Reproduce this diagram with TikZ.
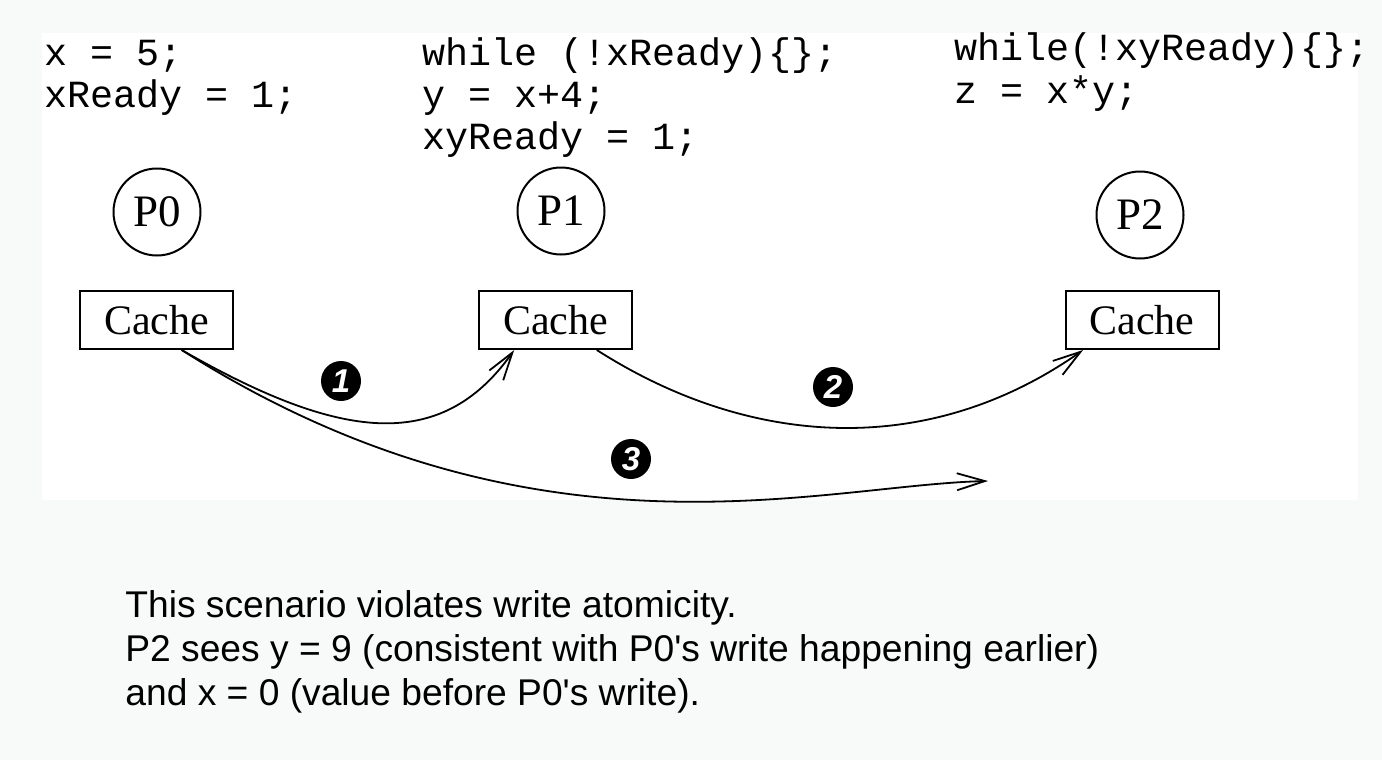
\documentclass[tikz,border=0pt]{standalone}
\usepackage{fontspec}
\setmainfont{Liberation Serif}
\setsansfont{Liberation Sans}
\setmonofont{Liberation Mono}
\usetikzlibrary{arrows.meta}

\newlength{\du}
\setlength{\du}{0.5pt}
\definecolor{pagegray}{rgb}{0.972549, 0.976471, 0.976471}

\tikzset{
  codeblock/.style={anchor=base west, inner sep=0pt, align=left,
    font=\ttfamily\fontsize{19.2}{21}\selectfont},
  proc/.style={draw, circle, line width=2\du, minimum size=87\du,
    inner sep=0pt, font=\fontsize{22.5}{24}\selectfont},
  cachebox/.style={draw, rectangle, line width=2\du, minimum width=153\du,
    minimum height=58\du, inner sep=0pt, font=\fontsize{21}{24}\selectfont},
  badge/.style={circle, fill=black, minimum size=40\du, inner sep=0pt,
    text=white, font=\sffamily\bfseries\itshape\fontsize{16.5}{16}\selectfont},
  msg/.style={line width=1.8\du, -{Straight Barb[length=14pt, width=8.5pt]}},
  note/.style={anchor=base west, inner sep=0pt, align=left,
    font=\sffamily\fontsize{18.6}{22}\selectfont},
}

\begin{document}
\begin{tikzpicture}
\pgftransformxscale{1.000000}
\pgftransformyscale{-1.000000}
\useasboundingbox (0\du,0\du) rectangle (1382\du,760\du);
\fill[pagegray] (0\du,0\du) rectangle (1382\du,760\du);
\fill[white] (42\du,33\du) rectangle (1358\du,500\du);
% code of each processor (anchored at the last line)
\node[codeblock] (code0) at (44\du,107\du) {x = 5;\\xReady = 1;};
\node[codeblock] (code1) at (422\du,149\du) {while (!xReady)\{\};\\y = x+4;\\xyReady = 1;};
\node[codeblock] (code2) at (954\du,103\du) {while(!xyReady)\{\};\\z = x*y;};
% processors
\node[proc] (p0) at (157\du,212\du) {P0};
\node[proc] (p1) at (561\du,211\du) {P1};
\node[proc] (p2) at (1140\du,215\du) {P2};
% caches
\node[cachebox] (c0) at (156.5\du,320\du) {Cache};
\node[cachebox] (c1) at (555.5\du,320\du) {Cache};
\node[cachebox] (c2) at (1142\du,320\du) {Cache};
% writes
\coordinate (w3end) at (988\du,481\du);
\draw[msg] (c0.-50) .. controls (337\du,439\du) and (440\du,455\du) .. (c1.-144);
\draw[msg] (c1.-36) .. controls (750\du,448\du) and (928\du,459\du) .. (c2.-153);
\draw[msg] (c0.-50) .. controls (534\du,574\du) and (820\du,485\du) .. (w3end);
\node[badge] (b1) at (341\du,381\du) {1};
\node[badge] (b2) at (833\du,387\du) {2};
\node[badge] (b3) at (631\du,459\du) {3};
% caption
\node[note] (caption) at (125\du,705\du) {This scenario violates write atomicity.\\P2 sees y = 9 (consistent with P0\textquotesingle s write happening earlier)\\and x = 0 (value before P0\textquotesingle s write).};
\end{tikzpicture}
\end{document}
